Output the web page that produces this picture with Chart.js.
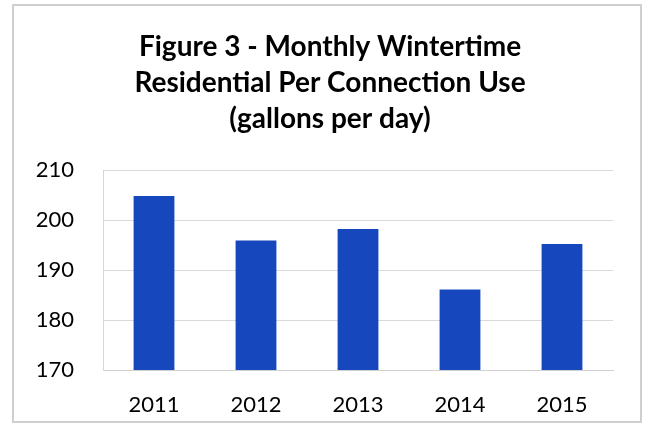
<!DOCTYPE html>
<html>
<head>
<meta charset="utf-8">
<script src="https://cdn.jsdelivr.net/npm/chart.js@4.4.1/dist/chart.umd.min.js"></script>
<style>
  html, body { margin: 0; padding: 0; background: #ffffff; }
  #frame {
    position: absolute; left: 12px; top: 4px;
    width: 626px; height: 415px;
    border: 2px solid #cfcfcf;
    background: #ffffff;
  }
  #frame canvas { display: block; }
</style>
</head>
<body>
<div id="frame"><canvas id="chart" width="626" height="415"></canvas></div>
<script>
// Winter residential use per connection, gallons per day
const years = ['2011', '2012', '2013', '2014', '2015'];
const gallonsPerDay = [204.8, 195.9, 198.2, 186.1, 195.2];
const yTicks = [170, 180, 190, 200, 210];
const titleLines = ['Figure 3 - Monthly Wintertime', 'Residential Per Connection Use', '(gallons per day)'];

new Chart(document.getElementById('chart'), {
  type: 'bar',
  data: {
    labels: years,
    datasets: [{
      data: gallonsPerDay,
      backgroundColor: '#1647bc',
      borderWidth: 0,
      barPercentage: 0.8,
      categoryPercentage: 0.5
    }]
  },
  options: {
    responsive: false,
    animation: false,
    layout: { padding: { left: 6, right: 0, top: 23, bottom: 0 } },
    plugins: {
      legend: { display: false },
      tooltip: { enabled: false },
      title: {
        display: true,
        text: titleLines,
        color: '#000000',
        font: { family: 'Lato', size: 28, weight: 'bold', lineHeight: 1.286 },
        padding: { top: 0, bottom: 33 }
      }
    },
    scales: {
      x: {
        grid: { display: false, drawTicks: false },
        border: { display: true, color: '#d0d0d0', width: 1 },
        ticks: {
          color: '#000000',
          font: { family: 'Lato', size: 22 },
          padding: 22
        },
        afterFit: (axis) => { axis.height = 51; }
      },
      y: {
        min: yTicks[0],
        max: yTicks[yTicks.length - 1],
        afterBuildTicks: (axis) => { axis.ticks = yTicks.map(v => ({ value: v })); },
        grid: { color: '#dadada', lineWidth: 1, drawTicks: false },
        border: { display: true, color: '#d6d6d6', width: 1 },
        ticks: {
          color: '#000000',
          font: { family: 'Lato', size: 22 },
          padding: 29
        },
        afterFit: (axis) => { axis.width = 83; }
      },
      // empty right-hand gutter so the plot stops short of the frame
      gutter: {
        type: 'linear',
        position: 'right',
        display: true,
        grid: { display: false, drawTicks: false },
        border: { display: false },
        ticks: { display: false },
        afterFit: (axis) => { axis.width = 27; }
      }
    }
  }
});
</script>
</body>
</html>
